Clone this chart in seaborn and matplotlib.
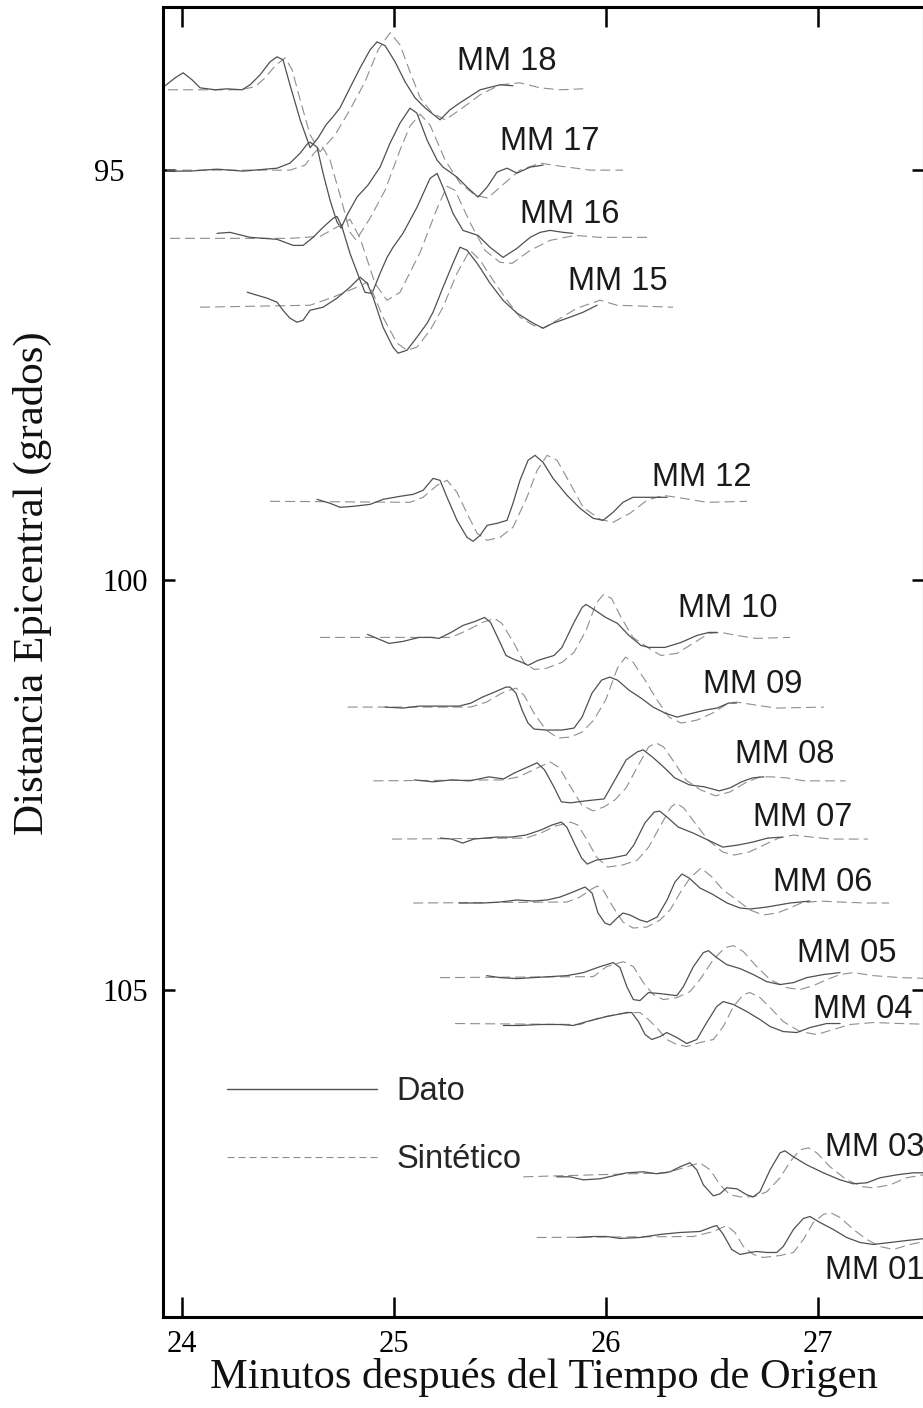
import matplotlib
matplotlib.use("Agg")
import matplotlib.pyplot as plt
import seaborn as sns
from matplotlib.lines import Line2D

# ---------------- data ----------------
stations = ["MM 18", "MM 17", "MM 16", "MM 15", "MM 12", "MM 10", "MM 09",
            "MM 08", "MM 07", "MM 06", "MM 05", "MM 04", "MM 03", "MM 01"]
distances = [94.02, 95.00, 95.82, 96.66, 99.04, 100.70, 101.55,
             102.45, 103.16, 103.94, 104.85, 105.41, 107.28, 108.02]
# label anchors (left, baseline) in data units
label_t = [25.297, 25.500, 25.594, 25.821, 26.217, 26.340, 26.458,
           26.608, 26.693, 26.788, 26.901, 26.976, 27.033, 27.033]
label_d = [93.774, 94.750, 95.640, 96.457, 98.848, 100.445, 101.384,
           102.226, 103.006, 103.799, 104.665, 105.348, 107.030, 108.530]

x_ticks = [24, 25, 26, 27]
y_ticks = [95, 100, 105]
y_tick_labels = ["95\u2007 ", "100", "105"]

# traces: time (min) and amplitude (degrees, positive up)
mm18_dato_t = [23.920, 23.967, 24.005, 24.047, 24.085, 24.156, 24.212, 24.283, 24.321, 24.368, 24.415, 24.448, 24.476, 24.509, 24.557, 24.604, 24.642, 24.679, 24.712, 24.745, 24.792, 24.840, 24.887, 24.920, 24.958, 25.005, 25.052, 25.099, 25.146, 25.217, 25.264, 25.311, 25.406, 25.500, 25.561]
mm18_dato_a = [0.049, 0.146, 0.207, 0.122, 0.024, 0.000, 0.012, 0.000, 0.061, 0.183, 0.341, 0.402, 0.366, 0.061, -0.366, -0.707, -0.585, -0.427, -0.329, -0.220, 0.024, 0.268, 0.488, 0.585, 0.537, 0.341, 0.098, -0.098, -0.220, -0.366, -0.244, -0.159, 0.000, 0.061, 0.049]
mm18_sint_t = [23.934, 24.274, 24.344, 24.392, 24.439, 24.486, 24.519, 24.557, 24.604, 24.651, 24.722, 24.792, 24.863, 24.925, 24.981, 25.028, 25.075, 25.123, 25.179, 25.241, 25.311, 25.406, 25.500, 25.594, 25.689, 25.783, 25.892]
mm18_sint_a = [0.0, 0.0, 0.037, 0.146, 0.293, 0.390, 0.244, -0.122, -0.549, -0.756, -0.549, -0.244, 0.098, 0.488, 0.695, 0.549, 0.220, -0.098, -0.280, -0.366, -0.244, -0.061, 0.061, 0.085, 0.024, 0.0, 0.012]

mm17_dato_t = [23.929, 24.038, 24.165, 24.288, 24.448, 24.509, 24.557, 24.590, 24.604, 24.637, 24.665, 24.698, 24.731, 24.750, 24.778, 24.825, 24.877, 24.934, 24.981, 25.028, 25.075, 25.108, 25.156, 25.203, 25.231, 25.297, 25.344, 25.396, 25.439, 25.486, 25.533, 25.580, 25.642, 25.703]
mm17_dato_a = [-0.012, -0.012, 0.012, -0.012, 0.024, 0.085, 0.207, 0.317, 0.341, 0.280, -0.037, -0.366, -0.634, -0.707, -0.549, -0.329, -0.183, 0.037, 0.329, 0.573, 0.756, 0.695, 0.366, 0.122, 0.037, -0.085, -0.207, -0.329, -0.207, -0.024, 0.024, -0.037, 0.037, 0.061]
mm17_sint_t = [23.929, 24.509, 24.580, 24.627, 24.660, 24.698, 24.745, 24.792, 24.821, 24.887, 24.958, 25.028, 25.075, 25.123, 25.170, 25.241, 25.311, 25.382, 25.443, 25.500, 25.594, 25.689, 25.783, 25.925, 26.080]
mm17_sint_a = [0.0, 0.0, 0.061, 0.220, 0.293, 0.122, -0.305, -0.756, -0.854, -0.585, -0.244, 0.244, 0.537, 0.683, 0.549, 0.122, -0.159, -0.305, -0.341, -0.207, 0.0, 0.085, 0.049, 0.0, 0.0]

mm16_dato_t = [24.165, 24.226, 24.321, 24.448, 24.524, 24.571, 24.618, 24.665, 24.712, 24.731, 24.755, 24.792, 24.840, 24.863, 24.896, 24.934, 24.967, 24.995, 25.042, 25.108, 25.170, 25.203, 25.231, 25.278, 25.325, 25.396, 25.453, 25.514, 25.580, 25.642, 25.689, 25.736, 25.797, 25.844]
mm16_dato_a = [0.049, 0.061, 0.0, -0.024, -0.098, -0.098, 0.0, 0.122, 0.232, 0.256, 0.122, -0.195, -0.524, -0.671, -0.683, -0.439, -0.244, -0.122, 0.049, 0.366, 0.720, 0.780, 0.610, 0.293, 0.085, 0.024, -0.122, -0.244, -0.134, 0.0, 0.061, 0.085, 0.061, 0.049]
mm16_sint_t = [23.943, 24.509, 24.651, 24.745, 24.792, 24.840, 24.910, 24.967, 25.028, 25.123, 25.203, 25.250, 25.288, 25.358, 25.429, 25.500, 25.557, 25.642, 25.736, 25.854, 25.972, 26.198]
mm16_sint_a = [-0.012, -0.012, 0.012, 0.146, 0.220, -0.012, -0.561, -0.768, -0.671, -0.183, 0.354, 0.622, 0.573, 0.183, -0.159, -0.305, -0.317, -0.159, -0.037, 0.024, 0.0, 0.0]

mm15_dato_t = [24.307, 24.354, 24.401, 24.448, 24.476, 24.509, 24.542, 24.571, 24.604, 24.665, 24.731, 24.792, 24.840, 24.873, 24.901, 24.948, 24.995, 25.019, 25.061, 25.108, 25.156, 25.184, 25.231, 25.278, 25.311, 25.344, 25.392, 25.453, 25.514, 25.580, 25.656, 25.703, 25.750, 25.830, 25.892, 25.958]
mm15_dato_a = [0.171, 0.134, 0.098, 0.049, -0.049, -0.146, -0.195, -0.171, -0.049, -0.012, 0.098, 0.232, 0.354, 0.280, 0.110, -0.256, -0.500, -0.573, -0.537, -0.378, -0.207, -0.073, 0.232, 0.524, 0.720, 0.683, 0.524, 0.280, 0.073, -0.085, -0.207, -0.268, -0.207, -0.134, -0.073, 0.012]
mm15_sint_t = [24.085, 24.604, 24.712, 24.825, 24.873, 24.901, 24.948, 25.014, 25.061, 25.108, 25.170, 25.231, 25.297, 25.358, 25.406, 25.467, 25.533, 25.594, 25.656, 25.703, 25.769, 25.863, 25.972, 26.052, 26.316]
mm15_sint_a = [-0.012, 0.012, 0.110, 0.232, 0.293, 0.159, -0.134, -0.451, -0.537, -0.500, -0.293, -0.012, 0.402, 0.683, 0.561, 0.317, 0.073, -0.134, -0.232, -0.268, -0.171, -0.024, 0.073, 0.012, -0.012]

mm12_dato_t = [24.637, 24.698, 24.745, 24.807, 24.887, 24.948, 25.028, 25.090, 25.137, 25.184, 25.217, 25.250, 25.297, 25.344, 25.373, 25.406, 25.439, 25.486, 25.533, 25.561, 25.594, 25.632, 25.665, 25.703, 25.750, 25.816, 25.877, 25.939, 25.986, 26.033, 26.080, 26.127, 26.208, 26.288]
mm12_dato_a = [0.024, -0.024, -0.073, -0.061, -0.037, 0.024, 0.061, 0.085, 0.134, 0.280, 0.256, 0.049, -0.232, -0.439, -0.488, -0.415, -0.293, -0.268, -0.232, -0.024, 0.256, 0.500, 0.561, 0.476, 0.280, 0.073, -0.085, -0.207, -0.232, -0.134, -0.012, 0.049, 0.049, 0.049]
mm12_sint_t = [24.415, 25.075, 25.137, 25.203, 25.250, 25.297, 25.344, 25.392, 25.439, 25.500, 25.561, 25.627, 25.675, 25.722, 25.769, 25.830, 25.892, 25.972, 26.033, 26.113, 26.193, 26.269, 26.363, 26.476, 26.665]
mm12_sint_a = [0.0, -0.012, 0.049, 0.195, 0.256, 0.110, -0.146, -0.390, -0.476, -0.439, -0.317, 0.049, 0.378, 0.561, 0.500, 0.220, -0.073, -0.220, -0.256, -0.146, 0.012, 0.073, 0.037, -0.012, 0.0]

mm10_dato_t = [24.875, 24.976, 25.042, 25.118, 25.175, 25.212, 25.269, 25.325, 25.382, 25.427, 25.455, 25.491, 25.528, 25.566, 25.604, 25.632, 25.679, 25.755, 25.792, 25.849, 25.887, 25.906, 25.943, 25.998, 26.054, 26.108, 26.165, 26.203, 26.278, 26.354, 26.429, 26.486, 26.524]
mm10_dato_a = [0.037, -0.073, -0.049, 0.0, 0.0, -0.012, 0.061, 0.146, 0.195, 0.244, 0.183, -0.012, -0.220, -0.268, -0.305, -0.341, -0.280, -0.220, -0.122, 0.183, 0.366, 0.402, 0.341, 0.244, 0.171, 0.024, -0.098, -0.122, -0.122, -0.061, 0.024, 0.061, 0.061]
mm10_sint_t = [24.651, 25.269, 25.344, 25.417, 25.474, 25.509, 25.566, 25.613, 25.660, 25.717, 25.792, 25.849, 25.906, 25.953, 25.988, 26.026, 26.071, 26.127, 26.203, 26.259, 26.335, 26.410, 26.486, 26.542, 26.616, 26.708, 26.868]
mm10_sint_a = [0.0, 0.0, 0.085, 0.183, 0.232, 0.171, -0.073, -0.305, -0.390, -0.378, -0.305, -0.183, 0.085, 0.415, 0.524, 0.476, 0.244, 0.0, -0.134, -0.220, -0.195, -0.073, 0.049, 0.061, 0.024, -0.012, 0.0]

mm09_dato_t = [24.958, 25.042, 25.118, 25.212, 25.307, 25.363, 25.417, 25.474, 25.528, 25.547, 25.575, 25.604, 25.632, 25.660, 25.717, 25.792, 25.849, 25.887, 25.934, 25.979, 26.017, 26.054, 26.108, 26.165, 26.222, 26.278, 26.335, 26.392, 26.467, 26.524, 26.578, 26.616]
mm09_dato_a = [0.0, -0.012, 0.012, 0.012, 0.012, 0.049, 0.122, 0.183, 0.244, 0.244, 0.171, -0.037, -0.195, -0.268, -0.280, -0.280, -0.256, -0.122, 0.171, 0.329, 0.366, 0.329, 0.207, 0.110, 0.0, -0.073, -0.122, -0.085, -0.037, -0.012, 0.049, 0.049]
mm09_sint_t = [24.781, 25.361, 25.436, 25.509, 25.575, 25.613, 25.660, 25.717, 25.774, 25.830, 25.887, 25.942, 25.998, 26.054, 26.092, 26.127, 26.184, 26.241, 26.297, 26.354, 26.429, 26.503, 26.578, 26.616, 26.708, 26.802, 27.028]
mm09_sint_a = [0.0, 0.0, 0.061, 0.171, 0.232, 0.146, -0.073, -0.280, -0.378, -0.366, -0.305, -0.159, 0.085, 0.476, 0.610, 0.549, 0.329, 0.085, -0.122, -0.195, -0.159, -0.073, 0.049, 0.061, 0.024, -0.012, 0.0]

mm08_dato_t = [25.096, 25.184, 25.271, 25.358, 25.447, 25.517, 25.569, 25.622, 25.675, 25.710, 25.754, 25.789, 25.833, 25.903, 25.991, 26.042, 26.095, 26.148, 26.175, 26.218, 26.271, 26.324, 26.393, 26.464, 26.534, 26.586, 26.639, 26.692, 26.744]
mm08_dato_a = [0.012, -0.012, 0.012, 0.0, 0.049, 0.024, 0.098, 0.159, 0.220, 0.134, -0.073, -0.256, -0.268, -0.244, -0.220, 0.012, 0.256, 0.354, 0.378, 0.293, 0.171, 0.037, -0.049, -0.073, -0.122, -0.085, -0.012, 0.037, 0.049]
mm08_sint_t = [24.903, 25.517, 25.587, 25.657, 25.736, 25.780, 25.833, 25.885, 25.938, 25.991, 26.042, 26.095, 26.148, 26.201, 26.236, 26.271, 26.324, 26.376, 26.446, 26.517, 26.586, 26.657, 26.726, 26.779, 26.849, 26.937, 27.130]
mm08_sint_a = [0.0, 0.012, 0.049, 0.134, 0.232, 0.159, -0.073, -0.293, -0.366, -0.317, -0.232, -0.085, 0.171, 0.415, 0.463, 0.415, 0.220, 0.012, -0.110, -0.183, -0.134, -0.024, 0.049, 0.049, 0.037, 0.0, 0.0]

mm07_dato_t = [25.219, 25.271, 25.324, 25.376, 25.429, 25.481, 25.552, 25.622, 25.692, 25.745, 25.789, 25.815, 25.850, 25.885, 25.911, 25.955, 26.025, 26.095, 26.131, 26.183, 26.227, 26.253, 26.288, 26.341, 26.411, 26.481, 26.551, 26.622, 26.692, 26.762, 26.832]
mm07_dato_a = [0.012, 0.0, -0.049, 0.0, 0.012, 0.024, 0.024, 0.049, 0.110, 0.171, 0.207, 0.146, -0.049, -0.232, -0.305, -0.256, -0.232, -0.195, -0.073, 0.195, 0.329, 0.341, 0.268, 0.146, 0.073, -0.012, -0.098, -0.073, -0.037, 0.012, 0.024]
mm07_sint_t = [24.991, 25.622, 25.692, 25.762, 25.833, 25.867, 25.911, 25.955, 26.008, 26.078, 26.148, 26.201, 26.253, 26.306, 26.332, 26.367, 26.420, 26.481, 26.551, 26.604, 26.674, 26.744, 26.815, 26.884, 26.972, 27.060, 27.235]
mm07_sint_a = [0.0, 0.012, 0.073, 0.159, 0.207, 0.171, -0.012, -0.220, -0.341, -0.317, -0.256, -0.098, 0.146, 0.390, 0.439, 0.378, 0.195, -0.012, -0.159, -0.195, -0.159, -0.073, 0.012, 0.049, 0.024, 0.0, 0.0]

mm06_dato_t = [25.307, 25.344, 25.420, 25.500, 25.580, 25.656, 25.722, 25.783, 25.844, 25.901, 25.934, 25.962, 25.995, 26.019, 26.052, 26.080, 26.113, 26.160, 26.193, 26.241, 26.288, 26.325, 26.358, 26.392, 26.443, 26.500, 26.571, 26.632, 26.679, 26.759, 26.868, 26.962]
mm06_dato_a = [0.0, 0.0, 0.0, 0.012, 0.037, 0.024, 0.037, 0.073, 0.134, 0.195, 0.122, -0.122, -0.244, -0.268, -0.183, -0.122, -0.146, -0.207, -0.232, -0.171, 0.037, 0.256, 0.354, 0.305, 0.183, 0.110, 0.0, -0.061, -0.073, -0.049, 0.0, 0.024]
mm06_sint_t = [25.090, 25.816, 25.877, 25.925, 25.958, 25.986, 26.033, 26.080, 26.127, 26.193, 26.255, 26.302, 26.349, 26.396, 26.448, 26.500, 26.552, 26.618, 26.679, 26.741, 26.807, 26.868, 26.920, 27.009, 27.104, 27.231, 27.335]
mm06_sint_a = [0.0, 0.012, 0.073, 0.159, 0.207, 0.159, -0.049, -0.232, -0.305, -0.293, -0.207, -0.085, 0.122, 0.305, 0.427, 0.317, 0.159, 0.037, -0.085, -0.146, -0.122, -0.061, 0.0, 0.024, 0.012, 0.0, 0.0]

mm05_dato_t = [25.437, 25.500, 25.579, 25.657, 25.736, 25.815, 25.893, 25.972, 26.034, 26.066, 26.098, 26.129, 26.160, 26.200, 26.255, 26.334, 26.365, 26.412, 26.459, 26.483, 26.522, 26.569, 26.632, 26.695, 26.758, 26.821, 26.884, 26.947, 27.025, 27.104]
mm05_dato_a = [0.024, 0.0, -0.012, 0.0, 0.012, 0.024, 0.061, 0.134, 0.183, 0.122, -0.110, -0.268, -0.280, -0.183, -0.195, -0.220, -0.110, 0.134, 0.305, 0.329, 0.244, 0.159, 0.110, 0.037, -0.049, -0.085, -0.061, 0.0, 0.037, 0.061]
mm05_sint_t = [25.217, 25.940, 26.003, 26.082, 26.129, 26.176, 26.223, 26.270, 26.334, 26.396, 26.443, 26.506, 26.561, 26.601, 26.648, 26.711, 26.774, 26.852, 26.915, 26.978, 27.041, 27.104, 27.167, 27.261, 27.387, 27.550]
mm05_sint_a = [0.0, 0.012, 0.134, 0.195, 0.134, -0.061, -0.207, -0.268, -0.244, -0.171, -0.024, 0.220, 0.366, 0.390, 0.317, 0.134, -0.024, -0.122, -0.146, -0.098, -0.024, 0.037, 0.061, 0.024, 0.0, -0.012]

mm04_dato_t = [25.516, 25.594, 25.689, 25.783, 25.846, 25.909, 26.003, 26.098, 26.121, 26.153, 26.184, 26.216, 26.255, 26.286, 26.334, 26.381, 26.428, 26.475, 26.522, 26.553, 26.601, 26.664, 26.726, 26.774, 26.836, 26.900, 26.962, 27.041, 27.104]
mm04_dato_a = [-0.024, -0.024, -0.012, -0.012, -0.024, 0.024, 0.085, 0.134, 0.134, 0.024, -0.134, -0.195, -0.159, -0.110, -0.171, -0.244, -0.195, 0.012, 0.207, 0.268, 0.232, 0.146, 0.049, -0.037, -0.098, -0.110, -0.049, 0.0, 0.0]
mm04_sint_t = [25.288, 25.877, 25.972, 26.050, 26.113, 26.160, 26.200, 26.239, 26.286, 26.334, 26.381, 26.443, 26.506, 26.553, 26.601, 26.648, 26.679, 26.726, 26.774, 26.836, 26.915, 26.994, 27.072, 27.151, 27.261, 27.387, 27.550]
mm04_sint_a = [0.0, -0.012, 0.073, 0.110, 0.134, 0.134, 0.049, -0.049, -0.195, -0.256, -0.280, -0.232, -0.195, -0.037, 0.207, 0.354, 0.378, 0.317, 0.195, 0.024, -0.098, -0.134, -0.073, -0.012, 0.012, 0.0, -0.012]

mm03_dato_t = [25.767, 25.830, 25.893, 25.972, 26.034, 26.098, 26.176, 26.239, 26.302, 26.349, 26.396, 26.428, 26.459, 26.506, 26.538, 26.569, 26.617, 26.664, 26.695, 26.726, 26.774, 26.821, 26.844, 26.884, 26.947, 27.025, 27.104, 27.167, 27.230, 27.292, 27.371, 27.450, 27.550]
mm03_dato_a = [0.0, 0.0, -0.037, -0.024, 0.012, 0.049, 0.061, 0.037, 0.061, 0.122, 0.171, 0.085, -0.098, -0.232, -0.207, -0.134, -0.146, -0.220, -0.244, -0.183, 0.085, 0.293, 0.317, 0.244, 0.146, 0.049, -0.037, -0.085, -0.073, -0.012, 0.024, 0.049, 0.049]
mm03_sint_t = [25.610, 26.286, 26.381, 26.443, 26.491, 26.538, 26.585, 26.632, 26.695, 26.758, 26.821, 26.868, 26.915, 26.954, 26.994, 27.057, 27.135, 27.214, 27.261, 27.340, 27.418, 27.550]
mm03_sint_a = [0.0, 0.049, 0.122, 0.171, 0.085, -0.098, -0.220, -0.244, -0.244, -0.183, -0.012, 0.183, 0.329, 0.354, 0.293, 0.122, -0.037, -0.122, -0.134, -0.098, -0.012, 0.049]

mm01_dato_t = [25.862, 25.940, 26.003, 26.066, 26.160, 26.255, 26.349, 26.443, 26.506, 26.522, 26.553, 26.593, 26.632, 26.679, 26.711, 26.758, 26.805, 26.836, 26.884, 26.931, 26.962, 27.009, 27.072, 27.135, 27.198, 27.261, 27.340, 27.418, 27.550]
mm01_dato_a = [0.0, 0.012, 0.012, -0.012, 0.0, 0.037, 0.061, 0.073, 0.134, 0.146, 0.037, -0.146, -0.207, -0.183, -0.171, -0.183, -0.183, -0.110, 0.098, 0.232, 0.256, 0.183, 0.098, 0.0, -0.061, -0.085, -0.061, -0.037, 0.0]
mm01_sint_t = [25.673, 26.412, 26.506, 26.569, 26.608, 26.648, 26.695, 26.742, 26.821, 26.884, 26.931, 26.978, 27.025, 27.057, 27.104, 27.167, 27.230, 27.292, 27.355, 27.434, 27.550]
mm01_sint_a = [0.0, 0.012, 0.073, 0.146, 0.061, -0.110, -0.207, -0.244, -0.220, -0.183, -0.024, 0.183, 0.280, 0.305, 0.244, 0.098, -0.024, -0.110, -0.146, -0.085, -0.024]

traces = [
    (mm18_dato_t, mm18_dato_a, mm18_sint_t, mm18_sint_a),
    (mm17_dato_t, mm17_dato_a, mm17_sint_t, mm17_sint_a),
    (mm16_dato_t, mm16_dato_a, mm16_sint_t, mm16_sint_a),
    (mm15_dato_t, mm15_dato_a, mm15_sint_t, mm15_sint_a),
    (mm12_dato_t, mm12_dato_a, mm12_sint_t, mm12_sint_a),
    (mm10_dato_t, mm10_dato_a, mm10_sint_t, mm10_sint_a),
    (mm09_dato_t, mm09_dato_a, mm09_sint_t, mm09_sint_a),
    (mm08_dato_t, mm08_dato_a, mm08_sint_t, mm08_sint_a),
    (mm07_dato_t, mm07_dato_a, mm07_sint_t, mm07_sint_a),
    (mm06_dato_t, mm06_dato_a, mm06_sint_t, mm06_sint_a),
    (mm05_dato_t, mm05_dato_a, mm05_sint_t, mm05_sint_a),
    (mm04_dato_t, mm04_dato_a, mm04_sint_t, mm04_sint_a),
    (mm03_dato_t, mm03_dato_a, mm03_sint_t, mm03_sint_a),
    (mm01_dato_t, mm01_dato_a, mm01_sint_t, mm01_sint_a),
]

# ---------------- style ----------------
sns.set_style("white")
plt.rcParams['font.family'] = ['Liberation Serif', 'DejaVu Serif']
SOLID = "#505050"
DASH = "#8e8e8e"
DASH_STYLE = (0, (9, 4.5))

fig = plt.figure(figsize=(9.23, 14.08), dpi=100)
ax = fig.add_axes([163 / 923, 1 - 1317 / 1408, (924 - 163) / 923, (1317 - 7) / 1408])

for name, dist, (dt, da, st, sa) in zip(stations, distances, traces):
    sns.lineplot(x=st, y=[dist - v for v in sa], ax=ax, sort=False, estimator=None,
                 color=DASH, linewidth=0.8, linestyle=DASH_STYLE)
    sns.lineplot(x=dt, y=[dist - v for v in da], ax=ax, sort=False, estimator=None,
                 color=SOLID, linewidth=0.9)

for name, lt, ld in zip(stations, label_t, label_d):
    ax.text(lt, ld, name, family=['Liberation Sans', 'DejaVu Sans'], fontsize=23.5,
            ha='left', va='baseline', color='#1a1a1a', clip_on=False)

ax.set_xlim(23.91, 27.50)
ax.set_ylim(108.99, 93.01)
ax.set_xticks(x_ticks)
ax.set_yticks(y_ticks)
ax.set_xticklabels([str(v) for v in x_ticks])
ax.set_yticklabels(y_tick_labels)

for s in ax.spines.values():
    s.set_visible(True)
    s.set_color('black')
    s.set_linewidth(2.2)

ax.tick_params(axis='x', direction='in', length=14.5, width=1.8, top=True, bottom=True,
               labeltop=False, labelbottom=True, labelsize=22, pad=9, colors='black')
ax.tick_params(axis='y', direction='in', length=8.5, width=1.8, left=True, right=True,
               labelleft=True, labelright=False, labelsize=22, pad=11, colors='black')
ax.grid(False)

ax.set_xlabel("Minutos después del Tiempo de Origen", fontsize=30.5, color='#111111')
ax.xaxis.set_label_coords(0.5, -0.031)
ax.set_ylabel("Distancia Epicentral (grados)", fontsize=31, color='#111111')
ax.yaxis.set_label_coords(-0.146, 0.56)

handles = [Line2D([], [], color=SOLID, linewidth=1.0),
           Line2D([], [], color=DASH, linewidth=0.8, linestyle=(0, (6.3, 3.6)))]
ax.legend(handles, ["Dato", "Sintético"], loc='upper left', bbox_to_anchor=(0.084, 0.184),
          frameon=False, prop={'family': 'Liberation Sans', 'size': 23.5},
          handlelength=4.6, handletextpad=0.6, labelspacing=1.15,
          borderpad=0, borderaxespad=0)

fig.savefig("out.png", dpi=100)
